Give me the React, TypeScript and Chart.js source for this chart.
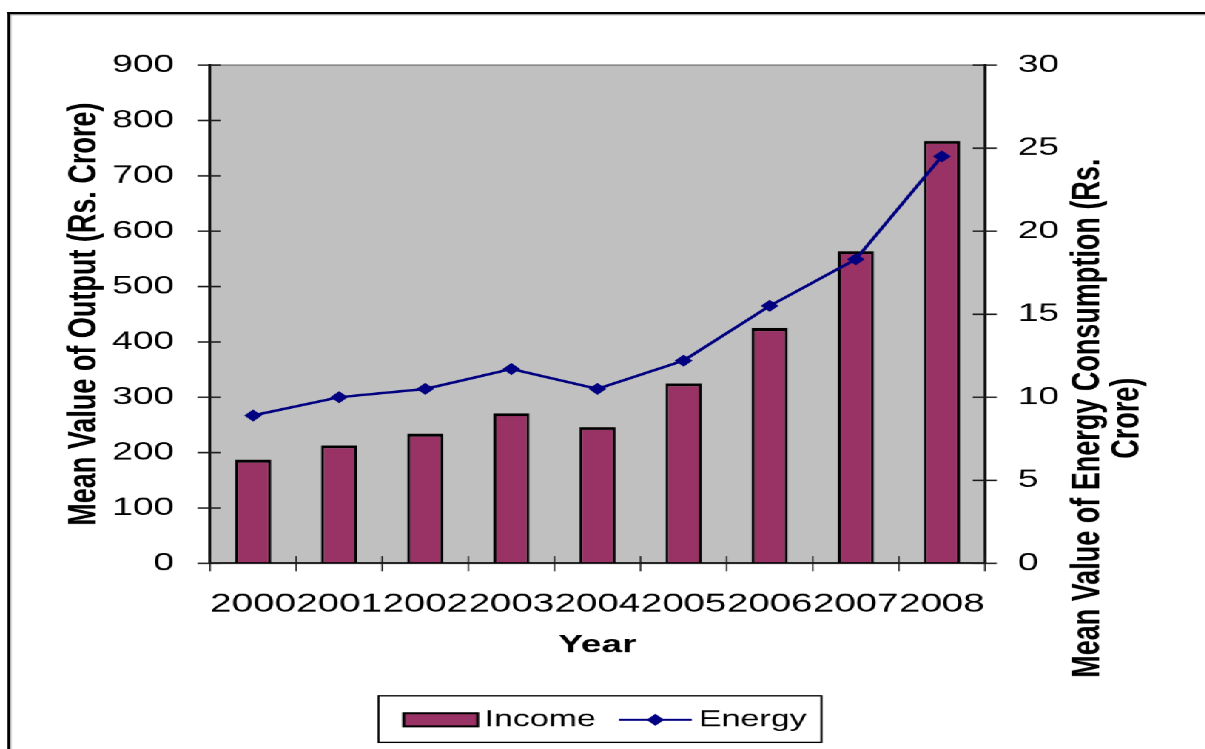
import { useEffect, useRef } from 'react';
import { Chart, registerables } from 'chart.js';

Chart.register(...registerables);

// ---- data ----
const years = ['2000', '2001', '2002', '2003', '2004', '2005', '2006', '2007', '2008'];
const incomeValues = [187, 213, 234, 271, 246, 325, 425, 564, 763];
const energyValues = [8.9, 10.0, 10.5, 11.7, 10.5, 12.2, 15.5, 18.3, 24.5];
const seriesLabels = ['Income', 'Energy'];
const outputTickValues = [0, 100, 200, 300, 400, 500, 600, 700, 800, 900];
const energyTickValues = [0, 5, 10, 15, 20, 25, 30];
const outputTitle = 'Mean Value of Output (Rs. Crore)';
const energyTitleLines = ['Mean Value of Energy Consumption (Rs.', 'Crore)'];
const yearTitle = 'Year';

// ---- styling ----
const FONT = '"Liberation Sans", Arial, Helvetica, sans-serif';
const BAR_COLOR = '#993366';
const LINE_COLOR = '#000080';
const PLOT_BG = '#c0c0c0';
// the chart is drawn on a narrower canvas and widened horizontally
const STRETCH = 1.48;
const CANVAS_W = 814;
const CANVAS_H = 749;

const chartDecor = {
  id: 'chartDecor',
  beforeDraw(chart: any) {
    const { ctx, chartArea: a, width, height } = chart;
    ctx.save();
    ctx.fillStyle = '#ffffff';
    ctx.fillRect(0, 0, width, height);
    // outer frame: heavy black rule with a thin grey inner rule
    ctx.fillStyle = '#000000';
    ctx.fillRect(4.9, 12, width, 2.3);
    ctx.fillRect(4.9, 12, 2, height);
    ctx.fillStyle = '#9a9a9a';
    ctx.fillRect(6.9, 14.3, width, 1);
    ctx.fillRect(6.9, 14.3, 0.7, height);
    // plot area
    ctx.fillStyle = PLOT_BG;
    ctx.fillRect(a.left, a.top, a.right - a.left, a.bottom - a.top);
    ctx.strokeStyle = '#7f7f7f';
    ctx.lineWidth = 1.5;
    ctx.beginPath();
    ctx.moveTo(a.left, a.top);
    ctx.lineTo(a.right, a.top);
    ctx.stroke();
    ctx.restore();
  },
  afterDraw(chart: any) {
    const { ctx, chartArea: a, scales } = chart;
    const xs = scales.x;
    const yl = scales.y;
    const yr = scales.y2;
    ctx.save();

    // cross tick marks on the value axes
    ctx.strokeStyle = '#1a1a1a';
    ctx.lineWidth = 1.5;
    ctx.beginPath();
    yl.ticks.forEach((_: any, i: number) => {
      const p = yl.getPixelForTick(i);
      ctx.moveTo(a.left - 8.4, p);
      ctx.lineTo(a.left + 7.2, p);
    });
    yr.ticks.forEach((_: any, i: number) => {
      const p = yr.getPixelForTick(i);
      ctx.moveTo(a.right - 8.2, p);
      ctx.lineTo(a.right + 8, p);
    });
    ctx.stroke();

    // category separators on the year axis
    ctx.lineWidth = 1;
    ctx.beginPath();
    for (let i = 0; i <= years.length; i++) {
      const p = xs.getPixelForValue(i - 0.5);
      ctx.moveTo(p, a.bottom - 7);
      ctx.lineTo(p, a.bottom + 8);
    }
    ctx.stroke();

    // right axis title, reading bottom to top
    ctx.fillStyle = '#000000';
    ctx.font = `bold 27px ${FONT}`;
    ctx.textAlign = 'center';
    ctx.textBaseline = 'middle';
    ctx.save();
    ctx.translate(a.right + 69.5, 418);
    ctx.rotate(-Math.PI / 2);
    energyTitleLines.forEach((line, i) => ctx.fillText(line, 0, i * 27));
    ctx.restore();

    // legend
    const ds = chart.data.datasets;
    const income = ds.find((d: any) => d.type === 'bar');
    const energy = ds.find((d: any) => d.type === 'line');
    ctx.font = `23px ${FONT}`;
    const w1 = ctx.measureText(income.label).width;
    const w2 = ctx.measureText(energy.label).width;
    const padL = 17;
    const swatch = 50;
    const gapText = 4.5;
    const gapItem = 15.5;
    const lineSw = 49.3;
    const gapText2 = 4.7;
    const padR = 10;
    const total = padL + swatch + gapText + w1 + gapItem + lineSw + gapText2 + w2 + padR;
    const cx = (a.left + a.right) / 2 + 1.7;
    const L = cx - total / 2;
    const top = 695.5;
    const bottom = 742;
    const mid = 719.5;
    ctx.strokeStyle = '#000000';
    ctx.lineWidth = 1.4;
    ctx.strokeRect(L, top, total, bottom - top);

    let x = L + padL;
    ctx.fillStyle = income.backgroundColor;
    ctx.fillRect(x, mid - 6.5, swatch, 13);
    ctx.lineWidth = 2;
    ctx.strokeStyle = '#000000';
    ctx.strokeRect(x, mid - 6.5, swatch, 13);
    x += swatch + gapText;
    ctx.fillStyle = '#000000';
    ctx.textAlign = 'left';
    ctx.textBaseline = 'middle';
    ctx.fillText(income.label, x, mid);
    x += w1 + gapItem;

    ctx.strokeStyle = energy.borderColor;
    ctx.lineWidth = 2;
    ctx.beginPath();
    ctx.moveTo(x, mid);
    ctx.lineTo(x + lineSw, mid);
    ctx.stroke();
    ctx.fillStyle = energy.borderColor;
    const dx = x + lineSw / 2;
    ctx.beginPath();
    ctx.moveTo(dx - 6, mid);
    ctx.lineTo(dx, mid - 6);
    ctx.lineTo(dx + 6, mid);
    ctx.lineTo(dx, mid + 6);
    ctx.closePath();
    ctx.fill();
    x += lineSw + gapText2;
    ctx.fillStyle = '#000000';
    ctx.fillText(energy.label, x, mid);

    ctx.restore();
  },
};

export default function App() {
  const canvasRef = useRef<HTMLCanvasElement>(null);

  useEffect(() => {
    const canvas = canvasRef.current;
    if (!canvas) return;

    const tickFont = { family: FONT, size: 25 };

    const chart = new Chart(canvas, {
      type: 'bar',
      data: {
        labels: years,
        datasets: [
          {
            type: 'line',
            label: seriesLabels[1],
            data: energyValues,
            yAxisID: 'y2',
            borderColor: LINE_COLOR,
            backgroundColor: LINE_COLOR,
            borderWidth: 2.5,
            pointStyle: 'rectRot',
            pointRadius: 6,
            pointBackgroundColor: LINE_COLOR,
            pointBorderColor: LINE_COLOR,
            pointBorderWidth: 0,
            tension: 0,
            order: 0,
          } as any,
          {
            type: 'bar',
            label: seriesLabels[0],
            data: incomeValues,
            yAxisID: 'y',
            backgroundColor: BAR_COLOR,
            borderColor: '#000000',
            borderWidth: { top: 3, left: 2, right: 2, bottom: 0 },
            barPercentage: 0.42,
            categoryPercentage: 1,
            order: 1,
          } as any,
        ],
      },
      options: {
        responsive: true,
        maintainAspectRatio: false,
        devicePixelRatio: 1.5,
        animation: false,
        layout: { padding: { top: 65, left: 0, right: 0, bottom: 0 } },
        plugins: {
          legend: { display: false },
          tooltip: { enabled: false },
        },
        scales: {
          x: {
            offset: true,
            grid: { display: false, drawTicks: false },
            border: { display: true, color: '#000000', width: 1.6, z: 1 },
            ticks: {
              font: { family: FONT, size: 26 },
              color: '#000000',
              padding: 25.5,
              maxRotation: 0,
              autoSkip: false,
            },
            title: {
              display: true,
              text: yearTitle,
              color: '#000000',
              font: { family: FONT, size: 25, weight: 'bold' },
              padding: { top: 0, bottom: 89 },
            },
            afterFit: (s: any) => {
              s.height = CANVAS_H - 563;
            },
          },
          y: {
            position: 'left',
            min: outputTickValues[0],
            max: outputTickValues[outputTickValues.length - 1],
            grid: { display: false, drawTicks: false },
            border: { display: true, color: '#111111', width: 2, z: 1 },
            ticks: {
              stepSize: outputTickValues[1] - outputTickValues[0],
              font: tickFont,
              color: '#000000',
              padding: 24.3,
            },
            title: {
              display: true,
              text: outputTitle,
              color: '#000000',
              font: { family: FONT, size: 27, weight: 'bold' },
              padding: { top: 41, bottom: 0 },
            },
            afterFit: (s: any) => {
              s.width = 141.9;
            },
          },
          y2: {
            position: 'right',
            min: energyTickValues[0],
            max: energyTickValues[energyTickValues.length - 1],
            grid: { display: false, drawTicks: false },
            border: { display: true, color: '#111111', width: 2, z: 1 },
            ticks: {
              stepSize: energyTickValues[1] - energyTickValues[0],
              font: tickFont,
              color: '#000000',
              padding: 22.3,
            },
            afterFit: (s: any) => {
              s.width = CANVAS_W - 665.5;
            },
          },
        },
      },
      plugins: [chartDecor],
    });

    return () => chart.destroy();
  }, []);

  return (
    <div
      style={{
        position: 'absolute',
        left: 0,
        top: 0,
        width: CANVAS_W,
        height: CANVAS_H,
        transform: `scaleX(${STRETCH})`,
        transformOrigin: '0 0',
        background: '#ffffff',
      }}
    >
      <canvas ref={canvasRef} />
    </div>
  );
}
